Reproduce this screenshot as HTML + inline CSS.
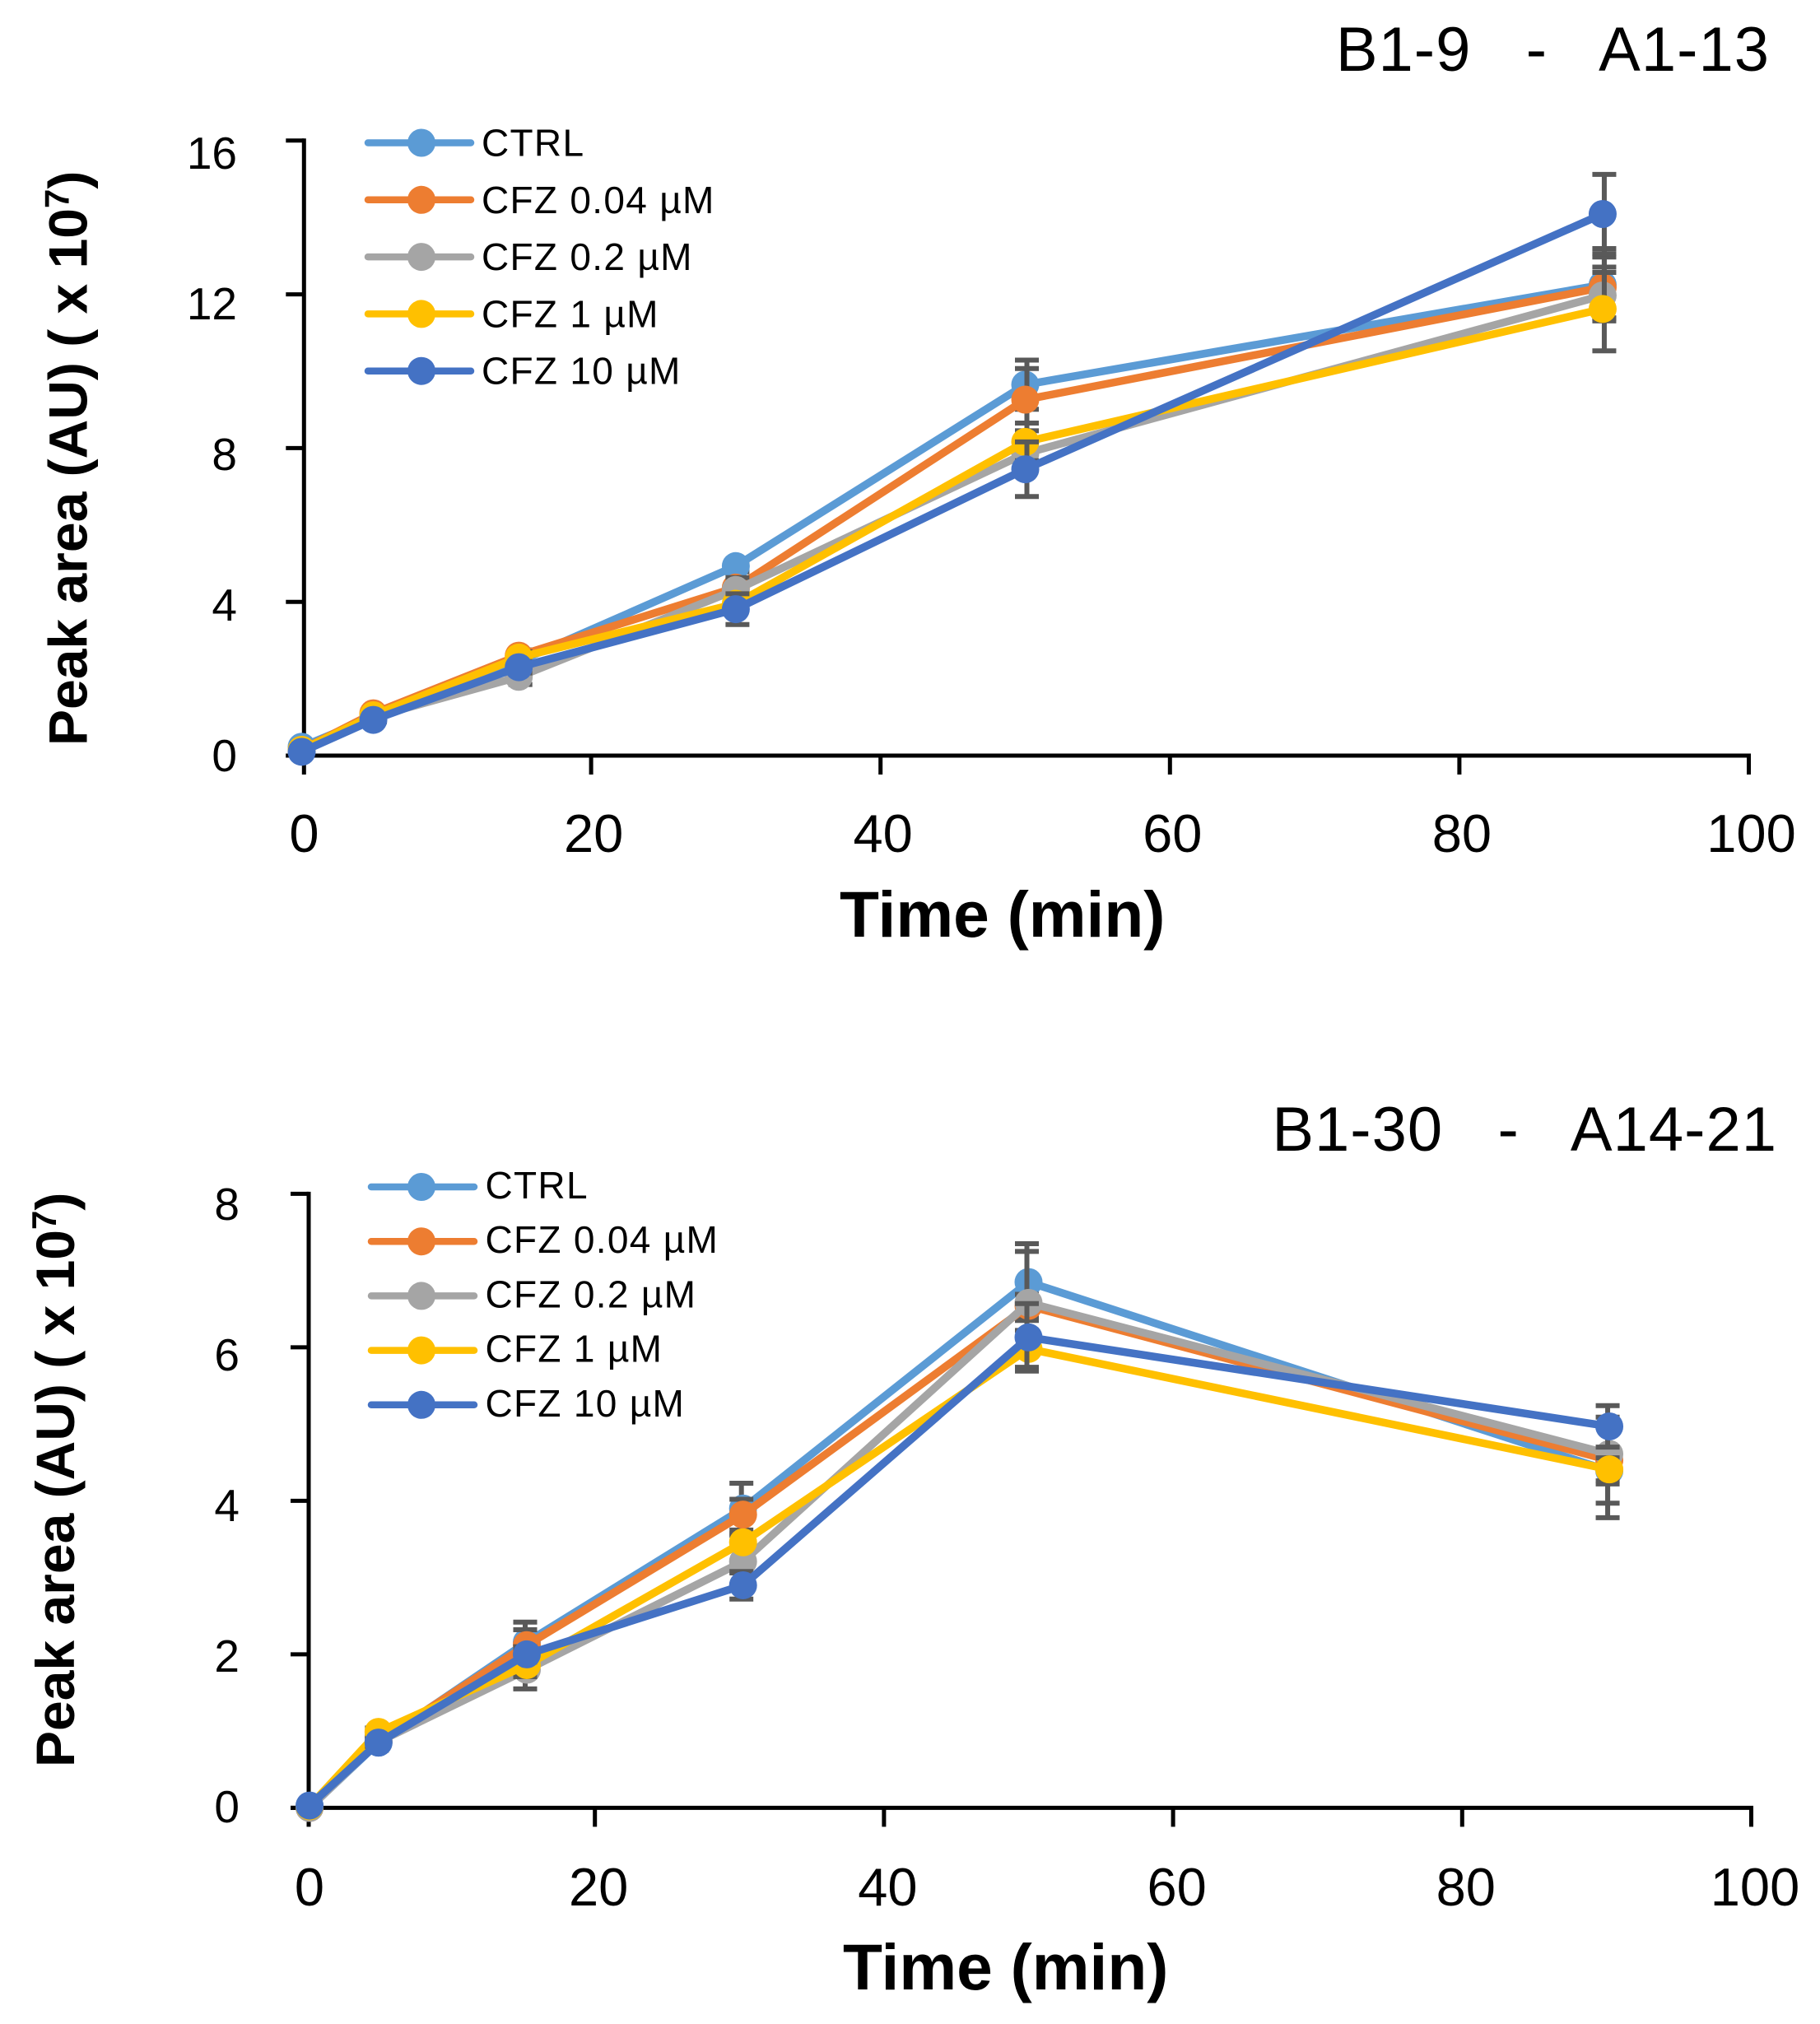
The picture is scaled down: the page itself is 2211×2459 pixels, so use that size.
<!DOCTYPE html>
<html lang="en">
<head>
<meta charset="utf-8">
<title>Peak area over time</title>
<style>
  html, body { margin: 0; padding: 0; background: #fff; }
  svg { display: block; }
  text { font-family: "Liberation Sans", sans-serif; fill: #000; white-space: pre; }
</style>
</head>
<body>
<svg id="figure" xmlns="http://www.w3.org/2000/svg" width="2211" height="2459" viewBox="0 0 2211 2459">
  <rect width="2211" height="2459" fill="#fff"/>
  <text x="2150" y="86" font-size="76" letter-spacing="1" text-anchor="end">B1-9   -   A1-13</text>
  <text x="2159" y="1398" font-size="76" letter-spacing="1" text-anchor="end">B1-30   -   A14-21</text>
  <text transform="translate(105.7 906) rotate(-90)" font-size="66" font-weight="700">Peak area (AU) ( x 10<tspan dy="-22" font-size="42">7</tspan><tspan dy="22">)</tspan></text>
  <text transform="translate(90 2147) rotate(-90)" font-size="66" font-weight="700">Peak area (AU) ( x 10<tspan dy="-22" font-size="42">7</tspan><tspan dy="22">)</tspan></text>
  <text x="1020" y="1138" font-size="78.5" font-weight="700">Time (min)</text>
  <text x="1024" y="2417" font-size="78.5" font-weight="700">Time (min)</text>
  <g id="chart-top"></g>
  <g id="chart-bottom"></g>
</svg>
<script>
// Shared labels
const seriesNames = ["CTRL", "CFZ 0.04 µM", "CFZ 0.2 µM", "CFZ 1 µM", "CFZ 10 µM"];
const seriesKeys = ["ctrl", "cfz-0-04", "cfz-0-2", "cfz-1", "cfz-10"];
const seriesColors = ["#5B9BD5", "#ED7D31", "#A5A5A5", "#FFC000", "#4472C4"];
const xTickValues = [0, 20, 40, 60, 80, 100];

// Top chart data (B1-9 - A1-13)
const topTimes = [0, 4.95, 15, 30, 50, 89.9];
const topYTicks = [0, 4, 8, 12, 16];
const topCtrl = [0.23, 1.0, 2.45, 4.93, 9.65, 12.25];
const topCfz004 = [0.15, 1.1, 2.6, 4.37, 9.26, 12.18];
const topCfz02 = [0.15, 1.0, 2.05, 4.31, 7.86, 11.97];
const topCfz1 = [0.15, 1.05, 2.55, 3.95, 8.16, 11.62];
const topCfz10 = [0.1, 0.93, 2.3, 3.81, 7.45, 14.09];
const topErrCtrl = [0.02, 0.05, 0.15, 0.15, 0.64, 0.94];
const topErrCfz004 = [0.02, 0.05, 0.15, 0.2, 0.81, 0.79];
const topErrCfz02 = [0.02, 0.05, 0.2, 0.32, 0.2, 0.6];
const topErrCfz1 = [0.02, 0.05, 0.15, 0.1, 0.49, 1.09];
const topErrCfz10 = [0.02, 0.05, 0.15, 0.4, 0.71, 1.03];

// Bottom chart data (B1-30 - A14-21)
const bottomTimes = [0.26, 5.03, 15.29, 30.25, 50, 90.18];
const bottomYTicks = [0, 2, 4, 6, 8];
const bottomCtrl = [0, 0.85, 2.16, 3.9, 6.85, 4.39];
const bottomCfz004 = [0, 0.87, 2.12, 3.82, 6.54, 4.53];
const bottomCfz02 = [0, 0.86, 1.8, 3.21, 6.58, 4.61];
const bottomCfz1 = [0.02, 0.99, 1.86, 3.46, 5.98, 4.41];
const bottomCfz10 = [0.03, 0.85, 2.0, 2.9, 6.13, 4.97];
const bottomErrCtrl = [0.01, 0.1, 0.26, 0.33, 0.5, 0.61];
const bottomErrCfz004 = [0.01, 0.05, 0.2, 0.2, 0.15, 0.56];
const bottomErrCfz02 = [0.01, 0.05, 0.25, 0.15, 0.67, 0.39];
const bottomErrCfz1 = [0.01, 0.05, 0.15, 0.09, 0.24, 0.15];
const bottomErrCfz10 = [0.01, 0.05, 0.1, 0.18, 0.44, 0.27];

const SVG_NS = "http://www.w3.org/2000/svg";

function make(parent, tag, attrs, text) {
  const el = document.createElementNS(SVG_NS, tag);
  for (const k in attrs) el.setAttribute(k, attrs[k]);
  if (text !== undefined) el.textContent = text;
  parent.appendChild(el);
  return el;
}

function drawChart(cfg) {
  const root = document.getElementById(cfg.id);
  const x = t => cfg.x0 + t * cfg.xPerUnit;
  const y = v => cfg.y0 - v * cfg.yPerUnit;
  const labelY = v => cfg.labelBase - v * cfg.labelPerUnit;
  const axisColor = "#000";
  const axisWidth = 5;
  const yTop = y(cfg.yTicks[cfg.yTicks.length - 1]);

  const yAxis = make(root, "line", { x1: cfg.axisX, x2: cfg.axisX, y1: yTop - 2.5, y2: cfg.y0 + 2.5, stroke: axisColor, "stroke-width": axisWidth });
  
  

  const xAxis = make(root, "line", { x1: cfg.axisX - 22, x2: x(100) + 2.5, y1: cfg.y0, y2: cfg.y0, stroke: axisColor, "stroke-width": axisWidth });
  
  

  cfg.yTicks.forEach(v => {
    const tick = make(root, "line", { x1: cfg.axisX - 22, x2: cfg.axisX, y1: y(v), y2: y(v), stroke: axisColor, "stroke-width": axisWidth });
    
    
    const label = make(root, "text", { x: cfg.yLabelX, y: labelY(v), "font-size": 55, "text-anchor": "end" }, String(v));
    
    
  });

  xTickValues.forEach(v => {
    const px = v === 0 ? cfg.axisX : x(v);
    const tick = make(root, "line", { x1: px, x2: px, y1: cfg.y0, y2: cfg.y0 + 23, stroke: axisColor, "stroke-width": axisWidth });
    
    
    const label = make(root, "text", { x: x(v) + cfg.xLabelShift, y: cfg.xLabelY, "font-size": 65, "text-anchor": "middle" }, String(v));
    
    
  });

  cfg.series.forEach((values, s) => {
    const color = seriesColors[s];
    const group = make(root, "g", {});
    
    

    values.forEach((v, i) => {
      const err = cfg.errors[s][i];
      const px = x(cfg.times[i]) + cfg.barShift;
      const bar = make(group, "path", {
        d: "M" + px + " " + y(v + err) + "V" + y(v - err) +
           "M" + (px - 14.5) + " " + y(v + err) + "H" + (px + 14.5) +
           "M" + (px - 14.5) + " " + y(v - err) + "H" + (px + 14.5),
        stroke: "#595959", "stroke-width": 6, fill: "none"
      });
      
      
    });

    const pts = values.map((v, i) => x(cfg.times[i]) + "," + y(v)).join(" ");
    const line = make(group, "polyline", { points: pts, fill: "none", stroke: color, "stroke-width": 9.5, "stroke-linejoin": "round", "stroke-linecap": "round" });
    
    

    values.forEach((v, i) => {
      const dot = make(group, "circle", { cx: x(cfg.times[i]), cy: y(v), r: 17, fill: color });
      
      
    });
  });

  const legend = make(root, "g", {});
  
  
  seriesNames.forEach((name, s) => {
    const ly = cfg.legendY + s * cfg.legendStep;
    const entry = make(legend, "g", {});
    
    
    const swatch = make(entry, "line", { x1: cfg.legendX0, x2: cfg.legendX1, y1: ly, y2: ly, stroke: seriesColors[s], "stroke-width": 8.5, "stroke-linecap": "round" });
    
    
    const dot = make(entry, "circle", { cx: 512, cy: ly, r: 17, fill: seriesColors[s] });
    
    
    const label = make(entry, "text", { x: cfg.legendTextX, y: ly + cfg.legendTextDy, "font-size": 46, "letter-spacing": 1.3 }, name);
    
    
  });
}

drawChart({
  id: "chart-top",
  times: topTimes,
  yTicks: topYTicks,
  series: [topCtrl, topCfz004, topCfz02, topCfz1, topCfz10],
  errors: [topErrCtrl, topErrCfz004, topErrCfz02, topErrCfz1, topErrCfz10],
  x0: 366.5, xPerUnit: 17.58, axisX: 369.3, barShift: 2,
  y0: 918, yPerUnit: 46.7,
  labelBase: 937, labelPerUnit: 45.75, yLabelX: 288,
  xLabelY: 1035, xLabelShift: 3,
  legendY: 173.5, legendStep: 69.3, legendX0: 447, legendX1: 572, legendTextX: 585, legendTextDy: 16
});

drawChart({
  id: "chart-bottom",
  times: bottomTimes,
  yTicks: bottomYTicks,
  series: [bottomCtrl, bottomCfz004, bottomCfz02, bottomCfz1, bottomCfz10],
  errors: [bottomErrCtrl, bottomErrCfz004, bottomErrCfz02, bottomErrCfz1, bottomErrCfz10],
  x0: 371.5, xPerUnit: 17.56, axisX: 375, barShift: -2,
  y0: 2196.4, yPerUnit: 93.25,
  labelBase: 2214, labelPerUnit: 91.5, yLabelX: 291,
  xLabelY: 2315, xLabelShift: 4.5,
  legendY: 1442, legendStep: 66.2, legendX0: 451, legendX1: 576, legendTextX: 589.5, legendTextDy: 14
});
</script>
</body>
</html>
